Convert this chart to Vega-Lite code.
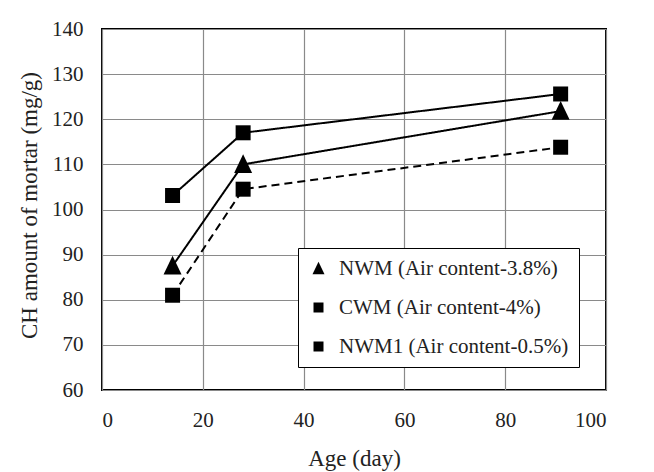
{
  "$schema": "https://vega.github.io/schema/vega-lite/v6.json",
  "width": 504,
  "height": 361,
  "autosize": {"type": "none"},
  "padding": {"left": 102, "top": 29, "right": 48, "bottom": 82},
  "background": "white",
  "config": {
    "font": "Liberation Serif",
    "view": {"stroke": "black", "strokeWidth": 2},
    "axis": {
      "domain": false,
      "ticks": false,
      "grid": true,
      "gridColor": "#8a8a8a",
      "gridWidth": 1.2,
      "labelFont": "Liberation Serif",
      "labelFontSize": 21,
      "labelColor": "#222",
      "titleFont": "Liberation Serif",
      "titleFontSize": 23,
      "titleFontWeight": "normal",
      "titleColor": "#222"
    },
    "legend": {
      "labelFont": "Liberation Serif",
      "labelFontSize": 21,
      "labelColor": "#222",
      "labelLimit": 400
    }
  },
  "data": {
    "values": [
      {"series": "NWM (Air content-3.8%)", "age": 14, "ch": 87.5},
      {"series": "NWM (Air content-3.8%)", "age": 28, "ch": 110},
      {"series": "NWM (Air content-3.8%)", "age": 91, "ch": 121.8},
      {"series": "CWM (Air content-4%)", "age": 14, "ch": 103.1},
      {"series": "CWM (Air content-4%)", "age": 28, "ch": 117},
      {"series": "CWM (Air content-4%)", "age": 91, "ch": 125.6},
      {"series": "NWM1 (Air content-0.5%)", "age": 14, "ch": 81},
      {"series": "NWM1 (Air content-0.5%)", "age": 28, "ch": 104.5},
      {"series": "NWM1 (Air content-0.5%)", "age": 91, "ch": 113.8}
    ]
  },
  "encoding": {
    "x": {
      "field": "age",
      "type": "quantitative",
      "scale": {"domain": [0, 100], "nice": false, "zero": false},
      "axis": {
        "values": [0, 20, 40, 60, 80, 100],
        "labelPadding": 19,
        "title": "Age (day)",
        "titleY": 68,
        "titleBaseline": "middle"
      }
    },
    "y": {
      "field": "ch",
      "type": "quantitative",
      "scale": {"domain": [60, 140], "nice": false, "zero": false},
      "axis": {
        "values": [60, 70, 80, 90, 100, 110, 120, 130, 140],
        "labelPadding": 19,
        "title": "CH amount of mortar (mg/g)",
        "titleX": -73,
        "titleY": 176,
        "titleBaseline": "middle"
      }
    }
  },
  "layer": [
    {
      "mark": {"type": "line", "color": "black", "strokeWidth": 2},
      "encoding": {
        "detail": {"field": "series", "type": "nominal"},
        "strokeDash": {
          "condition": {"test": "datum.series === 'NWM1 (Air content-0.5%)'", "value": [8, 5]},
          "value": [1, 0]
        }
      }
    },
    {
      "mark": {"type": "point", "filled": true, "color": "black", "opacity": 1, "size": 225},
      "encoding": {
        "shape": {
          "field": "series",
          "type": "nominal",
          "scale": {
            "domain": ["NWM (Air content-3.8%)", "CWM (Air content-4%)", "NWM1 (Air content-0.5%)"],
            "range": ["M0,-1.35L1.2,1.15L-1.2,1.15Z", "square", "square"]
          },
          "legend": {
            "title": null,
            "orient": "none",
            "legendX": 196,
            "legendY": 219,
            "padding": 10,
            "strokeColor": "black",
            "fillColor": "white",
            "symbolSize": 100,
            "symbolFillColor": "black",
            "symbolStrokeColor": "black",
            "symbolStrokeWidth": 0,
            "labelOffset": 10,
            "rowPadding": 17,
            "encode": {
              "legend": {
                "update": {
                  "strokeWidth": {"value": 2}
                }
              }
            }
          }
        }
      }
    }
  ]
}
